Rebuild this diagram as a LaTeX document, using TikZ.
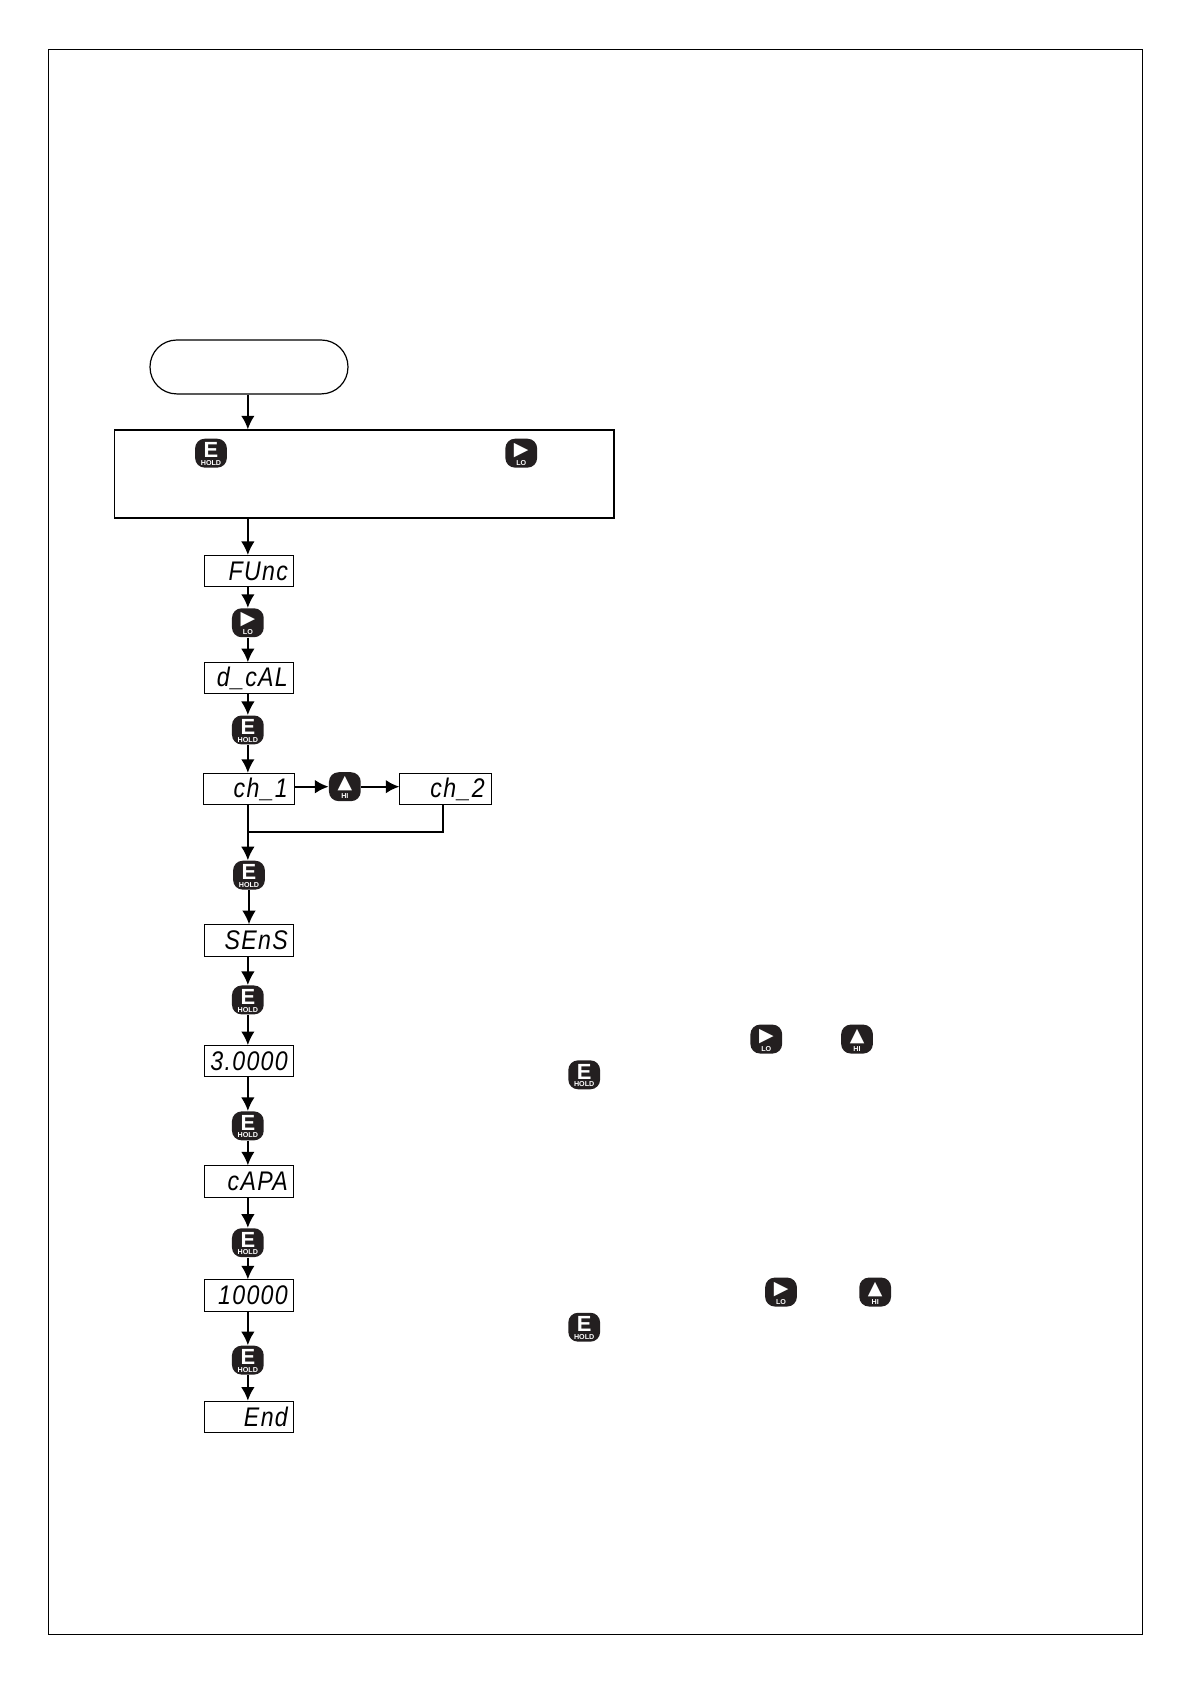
\documentclass[tikz,border=0pt]{standalone}
\usepackage{fontspec}
\usepackage{xcolor}
\usepackage{tikz}
\usetikzlibrary{arrows.meta, positioning}
\setmainfont{Liberation Sans}
\newfontfamily\symbfont{DejaVu Sans}
\newfontfamily\segfont[FakeStretch=0.86, LetterSpace=5]{Liberation Sans}
\definecolor{keyblack}{HTML}{231F20}
\tikzset{
	wire/.style={line width=1pt, -{Latex[length=0.24cm, width=0.24cm]}},
	plainwire/.style={line width=0.8pt},
	display/.style={draw, line width=0.5pt, minimum width=1.57cm, minimum height=0.55cm, text width=1.37cm, inner sep=0pt, align=right, font=\segfont\fontsize{13.5}{13.5}\selectfont\itshape},
	btnkey/.style={fill=keyblack, rounded corners=0.17cm, minimum width=0.56cm, minimum height=0.51cm, inner sep=0pt},
	keytop/.style={text=white, inner sep=0pt, font=\fontsize{11}{11}\selectfont\bfseries},
	keyarrow/.style={text=white, inner sep=0pt, font=\symbfont\fontsize{9.5}{9.5}\selectfont},
	keysub/.style={text=white, inner sep=0pt, font=\fontsize{3.6}{3.6}\selectfont\bfseries},
	keyE/.style={btnkey, label={[keytop, yshift=0.05cm]center:E}, label={[keysub, yshift=-0.17cm]center:HOLD}},
	keyLO/.style={btnkey, label={[keyarrow, yshift=0.05cm]center:▶}, label={[keysub, yshift=-0.17cm]center:LO}},
	keyHI/.style={btnkey, label={[keyarrow, yshift=0.05cm]center:▲}, label={[keysub, yshift=-0.17cm]center:HI}}
}
\begin{document}
\begin{tikzpicture}
	\useasboundingbox (0, 0) rectangle (21, 29.69);
	% Frame and top shapes:
	\node[draw, line width=0.4pt, minimum width=19.29cm, minimum height=27.95cm, anchor=south west, inner sep=0pt] (frame) at (0.846, 0.864){};
	\node[draw, line width=0.6pt, rounded corners=0.47cm, minimum width=3.49cm, minimum height=0.95cm] (start) at (4.39, 23.22){};
	\node[draw, line width=0.8pt, minimum width=8.80cm, minimum height=1.55cm] (menubox) at (6.42, 21.33){};
	\node[keyE] (boxE) at (3.72, 21.70){};
	\node[keyLO] (boxLO) at (9.19, 21.70){};
	% Displays:
	\node[display] (func) at (4.39, 19.62){FUnc};
	\node[display] (dcal) at (4.39, 17.73){d\_cAL};
	\node[display, minimum width=1.62cm] (chone) at (4.39, 15.78){ch\_1};
	\node[display, minimum width=1.62cm] (chtwo) at (7.86, 15.78){ch\_2};
	\node[display] (sens) at (4.39, 13.11){SEnS};
	\node[display] (gain) at (4.39, 10.98){3.0000};
	\node[display] (capa) at (4.39, 8.86){cAPA};
	\node[display] (cap) at (4.39, 6.85){10000};
	\node[display] (stop) at (4.39, 4.71){End};
	% Keys in the chain:
	\node[keyLO] (kLO) at (4.37, 18.71){};
	\node[keyE] (kEa) at (4.37, 16.82){};
	\node[keyHI] (kHI) at (6.08, 15.82){};
	\node[keyE] (kEb) at (4.39, 14.26){};
	\node[keyE] (kEc) at (4.37, 12.06){};
	\node[keyE] (kEd) at (4.37, 9.84){};
	\node[keyE] (kEe) at (4.37, 7.78){};
	\node[keyE] (kEf) at (4.37, 5.71){};
	% Keys on the right:
	\node[keyLO] (rLOa) at (13.51, 11.37){};
	\node[keyHI] (rHIa) at (15.11, 11.37){};
	\node[keyE] (rEa) at (10.30, 10.74){};
	\node[keyLO] (rLOb) at (13.77, 6.91){};
	\node[keyHI] (rHIb) at (15.43, 6.91){};
	\node[keyE] (rEb) at (10.30, 6.29){};
	% Connectors:
	\coordinate (join) at (4.37, 15.02);
	\draw[wire] (kLO.north |- start.south) -- (kLO.north |- menubox.north);
	\draw[wire] (kLO.north |- menubox.south) -- (kLO.north |- func.north);
	\draw[wire] (kLO.north |- func.south) -- (kLO.north);
	\draw[wire] (kLO.south) -- (kLO.south |- dcal.north);
	\draw[wire] (kEa.north |- dcal.south) -- (kEa.north);
	\draw[wire] (kEa.south) -- (kEa.south |- chone.north);
	\draw[wire] (kHI.west -| chone.east) -- (kHI.west);
	\draw[wire] (kHI.east) -- (kHI.east -| chtwo.west);
	\draw[plainwire] ([xshift=-0.05cm]chtwo.south) |- (join);
	\draw[wire] (join |- chone.south) -- (join |- kEb.north);
	\draw[wire] (kEb.south) -- (kEb.south |- sens.north);
	\draw[wire] (kEc.north |- sens.south) -- (kEc.north);
	\draw[wire] (kEc.south) -- (kEc.south |- gain.north);
	\draw[wire] (kEd.north |- gain.south) -- (kEd.north);
	\draw[wire] (kEd.south) -- (kEd.south |- capa.north);
	\draw[wire] (kEe.north |- capa.south) -- (kEe.north);
	\draw[wire] (kEe.south) -- (kEe.south |- cap.north);
	\draw[wire] (kEf.north |- cap.south) -- (kEf.north);
	\draw[wire] (kEf.south) -- (kEf.south |- stop.north);
\end{tikzpicture}
\end{document}
